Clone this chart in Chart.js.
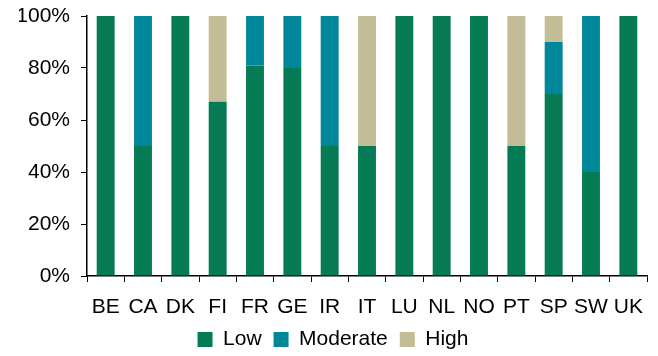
<!DOCTYPE html>
<html>
<head>
<meta charset="utf-8">
<script src="https://cdn.jsdelivr.net/npm/chart.js@4/dist/chart.umd.min.js"></script>
<style>
  html, body { margin: 0; padding: 0; background: #fff; }
  #wrap { width: 658px; height: 356px; }
</style>
</head>
<body>
<div id="wrap"><canvas id="riskChart" width="658" height="356"></canvas></div>
<script>
const countries = ['BE', 'CA', 'DK', 'FI', 'FR', 'GE', 'IR', 'IT', 'LU', 'NL', 'NO', 'PT', 'SP', 'SW', 'UK'];
const lowShare      = [100, 50, 100, 67, 81, 80, 50, 50, 100, 100, 100, 50, 70, 40, 100];
const moderateShare = [0,   50, 0,   0,  19, 20, 50, 0,  0,   0,   0,   0,  20, 60, 0];
const highShare     = [0,   0,  0,   33, 0,  0,  0,  50, 0,   0,   0,   50, 10, 0,  0];
const yTicks = [0, 20, 40, 60, 80, 100];

const FONT = 'Liberation Sans, Arial, sans-serif';

const ctx = document.getElementById('riskChart').getContext('2d');

new Chart(ctx, {
  type: 'bar',
  data: {
    labels: countries,
    datasets: [
      { label: 'Low', data: lowShare, backgroundColor: '#047b55' },
      { label: 'Moderate', data: moderateShare, backgroundColor: '#00889a' },
      { label: 'High', data: highShare, backgroundColor: '#c2bc97' }
    ]
  },
  options: {
    responsive: false,
    animation: false,
    // left padding only nudges the legend centre; y axis width keeps the plot edge at 87
    layout: { padding: { top: 16, right: 11, left: 19, bottom: -4 } },
    datasets: {
      bar: { barPercentage: 0.48, categoryPercentage: 1 }
    },
    scales: {
      x: {
        stacked: true,
        afterFit: scale => { scale.height = 41; },
        grid: {
          offset: true,
          drawOnChartArea: false,
          drawTicks: true,
          tickLength: 6,
          tickColor: '#000'
        },
        border: { color: '#000', width: 1.5 },
        ticks: {
          color: '#000',
          font: { family: FONT, size: 21 },
          padding: 13,
          maxRotation: 0,
          autoSkip: false
        }
      },
      y: {
        stacked: true,
        min: 0,
        max: 100,
        afterBuildTicks: scale => {
          scale.ticks = yTicks.map(v => ({ value: v }));
        },
        afterFit: scale => {
          scale.width = 68;
          scale.paddingTop = 0;
          scale.paddingBottom = 0;
        },
        grid: {
          drawOnChartArea: false,
          drawTicks: true,
          tickLength: 6,
          tickColor: '#000'
        },
        border: { color: '#000', width: 1.5 },
        ticks: {
          color: '#000',
          font: { family: FONT, size: 21 },
          padding: 11,
          callback: v => v + '%'
        }
      }
    },
    plugins: {
      legend: {
        position: 'bottom',
        labels: {
          color: '#000',
          font: { family: FONT, size: 21 },
          boxWidth: 15,
          boxHeight: 15,
          padding: 12
        }
      },
      tooltip: { enabled: false }
    }
  }
});
</script>
</body>
</html>
